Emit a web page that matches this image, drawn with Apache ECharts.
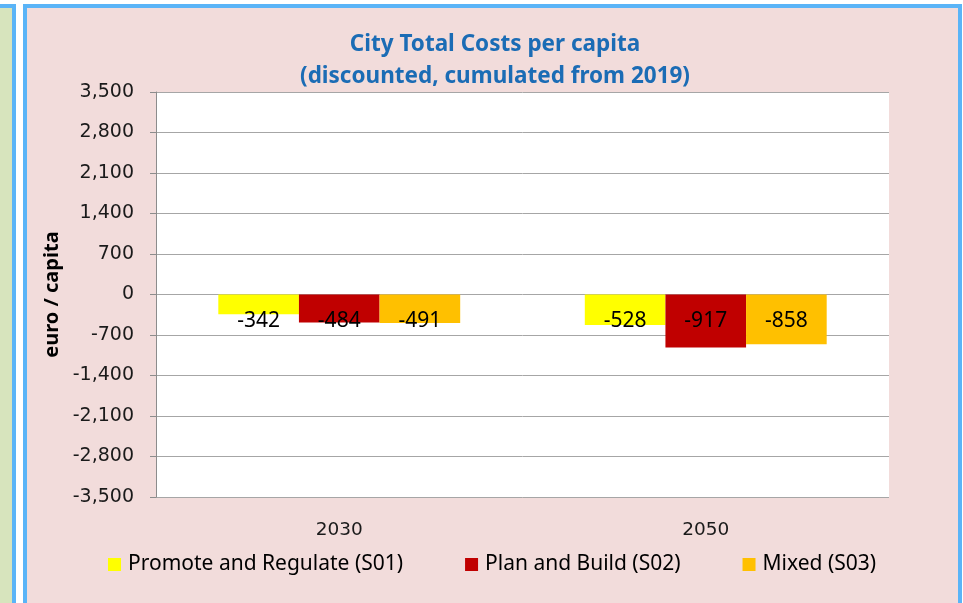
<!DOCTYPE html>
<html>
<head>
<meta charset="utf-8">
<script src="https://cdn.jsdelivr.net/npm/echarts@6/dist/echarts.min.js"></script>
<style>
  html, body { margin: 0; padding: 0; width: 963px; height: 603px; overflow: hidden; background: #ffffff; }
  .side { position: absolute; left: -20px; top: 4px; width: 28px; height: 640px; background: #d7e4bd; border: 4px solid #5ab4f7; }
  .panel { position: absolute; left: 23px; top: 4px; width: 931px; height: 640px; background: #f2dcdb; border: 4px solid #5ab4f7; }
  #chart { position: absolute; left: 0; top: 0; width: 963px; height: 603px; }
</style>
</head>
<body>
<div class="side"></div>
<div class="panel"></div>
<div id="chart"></div>
<script>
const years = ["2030", "2050"];
const seriesNames = ["Promote and Regulate (S01)", "Plan and Build (S02)", "Mixed (S03)"];
const promoteRegulate = [-342, -528];
const planBuild = [-484, -917];
const mixed = [-491, -858];
const seriesColors = ["#ffff00", "#c00000", "#ffc000"];

const chart = echarts.init(document.getElementById("chart"));

function makeSeries(name, data, color) {
  return {
    name,
    type: "bar",
    data,
    barGap: "0%",
    barCategoryGap: "34%",
    itemStyle: { color },
    label: {
      show: true,
      position: ["50%", 27],
      align: "center",
      verticalAlign: "middle",
      color: "#000",
      fontFamily: "Noto Sans",
      fontSize: 21,
    },
  };
}

chart.setOption({
  animation: false,
  title: {
    text: "City Total Costs per capita\n(discounted, cumulated from 2019)",
    left: 490,
    textAlign: "center",
    top: 24,
    textStyle: { color: "#1b6cb5", fontFamily: "Noto Sans", fontWeight: "bold", fontSize: 22.5, lineHeight: 32 },
  },
  legend: {
    left: 108,
    top: 554,
    padding: 0,
    itemWidth: 13,
    itemHeight: 13,
    itemGap: 62,
    icon: "rect",
    textStyle: { color: "#000", fontFamily: "Noto Sans", fontSize: 21, padding: [0, 0, 0, 2] },
    data: seriesNames,
  },
  grid: { left: 156, right: 74, top: 92, bottom: 106, show: true, backgroundColor: "#ffffff", borderWidth: 0 },
  xAxis: {
    type: "category",
    data: years,
    axisLine: { show: false },
    axisTick: { show: false },
    axisLabel: { margin: 24, color: "#1a1a1a", fontFamily: "DejaVu Sans", fontSize: 18.5 },
  },
  yAxis: {
    type: "value",
    min: -3500,
    max: 3500,
    interval: 700,
    name: "euro / capita",
    nameLocation: "middle",
    nameGap: 87,
    nameTextStyle: { color: "#000", fontFamily: "Noto Sans", fontWeight: "bold", fontSize: 20 },
    axisLine: { show: true, lineStyle: { color: "#8c8c8c", width: 1 } },
    axisTick: { show: true, length: 6, lineStyle: { color: "#8c8c8c" } },
    axisLabel: {
      margin: 22,
      color: "#1a1a1a",
      fontFamily: "DejaVu Sans",
      fontSize: 19,
      formatter: v => v.toLocaleString("en-US"),
    },
    splitLine: { lineStyle: { color: "#a6a6a6", width: 1 } },
  },
  series: [
    makeSeries(seriesNames[0], promoteRegulate, seriesColors[0]),
    makeSeries(seriesNames[1], planBuild, seriesColors[1]),
    makeSeries(seriesNames[2], mixed, seriesColors[2]),
  ],
});
</script>
</body>
</html>
